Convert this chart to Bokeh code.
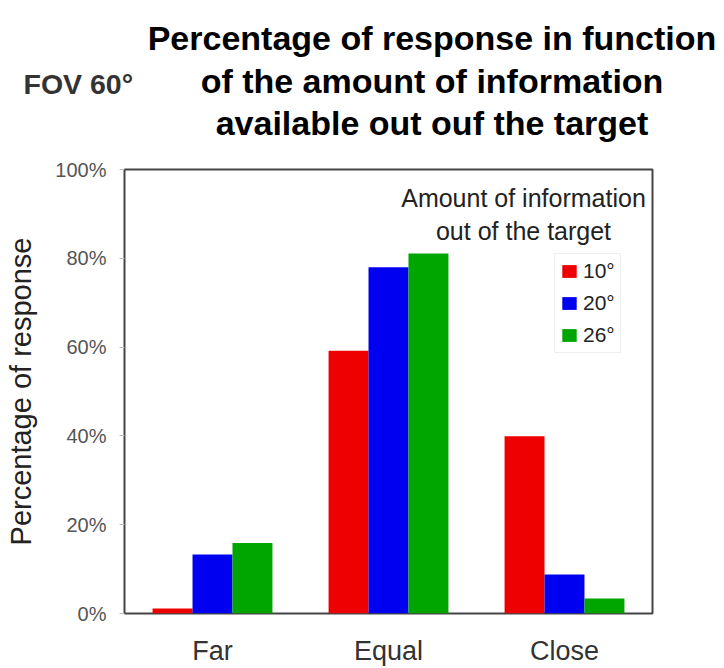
from bokeh.plotting import figure
from bokeh.layouts import column, row
from bokeh.models import Label, PrintfTickFormatter, FixedTicker, Legend, LegendItem
from bokeh.transform import dodge
from bokeh.embed import file_html
from bokeh.resources import INLINE

categories = ["Far", "Equal", "Close"]
series_names = ["10°", "20°", "26°"]
values_10 = [1.1, 59.2, 39.9]
values_20 = [13.3, 78.0, 8.8]
values_26 = [15.9, 81.1, 3.4]
y_ticks = [0, 20, 40, 60, 80, 100]
title_lines = ["Percentage of response in function",
               "of the amount of information",
               "available out ouf the target"]
legend_title_lines = ["Amount of information", "out of the target"]
colors = ["#ee0000", "#0000f0", "#00a600"]

FONT = "Liberation Sans"
W, H = 724, 668
TOP_H = 155

# ---------- header (titles) ----------
head = figure(width=W, height=TOP_H, output_backend="svg", toolbar_location=None,
              x_axis_location=None, y_axis_location=None,
              min_border_left=0, min_border_right=0, min_border_top=0, min_border_bottom=0)
head.outline_line_color = None
head.xgrid.grid_line_color = None
head.ygrid.grid_line_color = None
head.background_fill_color = "white"
head.border_fill_color = "white"

def head_label(text, cx, cy, size, align="center", color="#000000"):
    head.add_layout(Label(x=cx, y=TOP_H - cy, x_units="screen", y_units="screen",
                          text=text, text_font=FONT, text_font_size=size,
                          text_font_style="bold", text_align=align,
                          text_baseline="alphabetic", text_color=color))

for line, cy in zip(title_lines, [37, 80, 122]):
    head_label(line, 431.5, cy, "34px")
head_label("FOV 60°", 23, 83, "28.5px", align="left", color="#333333")

# ---------- main chart ----------
MAIN_H = H - TOP_H
p = figure(x_range=categories, y_range=(0, 100), width=W, height=MAIN_H,
           output_backend="svg", toolbar_location=None,
           min_border_left=124, min_border_right=72,
           min_border_top=169 - TOP_H, min_border_bottom=55)
p.background_fill_color = "white"
p.border_fill_color = "white"
p.outline_line_color = "#444444"
p.outline_line_width = 2
p.xgrid.grid_line_color = None
p.ygrid.grid_line_color = None

data = dict(cat=categories, v10=values_10, v20=values_20, v26=values_26)
bw = 0.227
renderers = []
for col, off, c in zip(["v10", "v20", "v26"], [-bw, 0, bw], colors):
    r = p.vbar(x=dodge("cat", off, range=p.x_range), top=col, width=bw,
               source=data, fill_color=c, line_color=None)
    renderers.append(r)

legend = Legend(items=[LegendItem(label=n, renderers=[r]) for n, r in zip(series_names, renderers)],
                location=(430, 260))
legend.label_text_font = FONT
legend.label_text_font_size = "21px"
legend.label_text_color = "#222222"
legend.glyph_width = 18
legend.glyph_height = 16
legend.label_height = 20
legend.label_standoff = 5
legend.spacing = 8
legend.padding = 5
legend.margin = 0
legend.border_line_color = "#dddddd"
legend.border_line_width = 1
legend.background_fill_color = "white"
p.add_layout(legend, "center")

# y axis
p.yaxis.ticker = FixedTicker(ticks=y_ticks)
p.yaxis.formatter = PrintfTickFormatter(format="%d%%")
p.yaxis.major_label_text_font = FONT
p.yaxis.major_label_text_font_size = "20px"
p.yaxis.major_label_text_color = "#555555"
p.yaxis.axis_line_color = None
p.yaxis.major_tick_in = 0
p.yaxis.major_tick_out = 5
p.yaxis.major_tick_line_color = "#bbbbbb"
p.yaxis.minor_tick_line_color = None
p.yaxis.major_label_standoff = 13
p.yaxis.axis_label = "Percentage of response"
p.yaxis.axis_label_text_font = FONT
p.yaxis.axis_label_text_font_size = "29px"
p.yaxis.axis_label_text_font_style = "normal"
p.yaxis.axis_label_text_color = "#222222"
p.yaxis.axis_label_standoff = 15

# x axis
p.xaxis.major_label_text_font = FONT
p.xaxis.major_label_text_font_size = "27px"
p.xaxis.major_label_text_color = "#333333"
p.xaxis.axis_line_color = None
p.xaxis.major_tick_line_color = None
p.xaxis.major_label_standoff = 16

# legend heading inside the frame (screen units relative to frame)
FL, FB = 124, 613
for line, cy in zip(legend_title_lines, [197, 230]):
    p.add_layout(Label(x=523 - FL, y=FB - cy, x_units="screen", y_units="screen",
                       text=line, text_font=FONT, text_font_size="25px",
                       text_align="center", text_baseline="alphabetic",
                       text_color="#222222"))

layout = column(row(head), p, spacing=0)
open("out.html", "w").write(file_html(layout, INLINE))
